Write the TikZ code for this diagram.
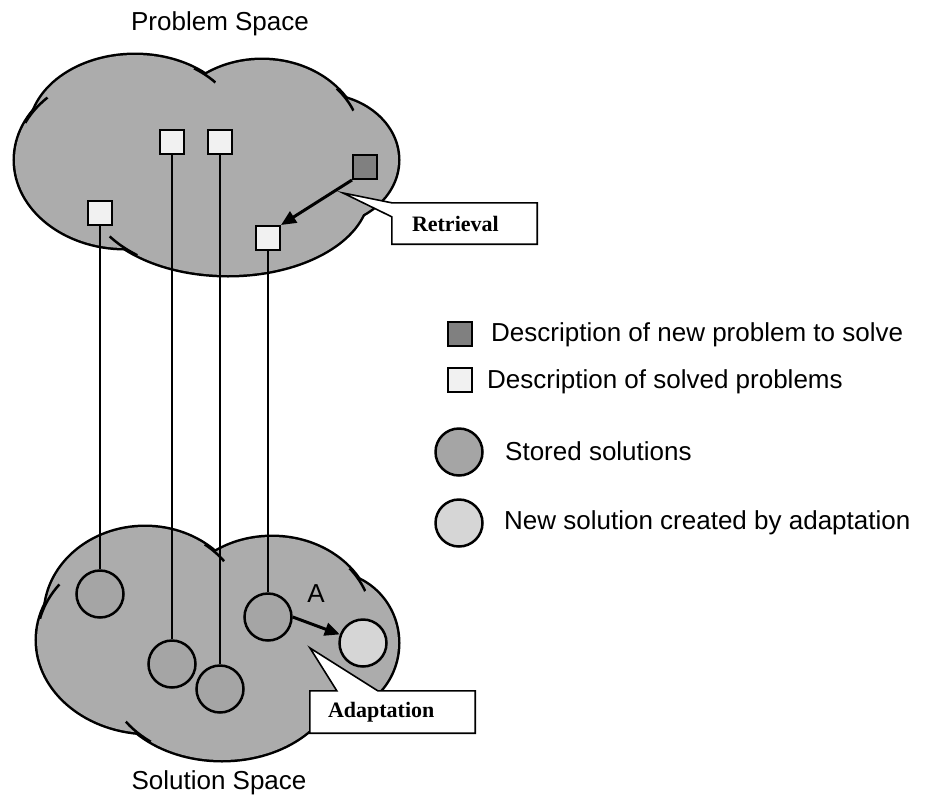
\documentclass[tikz,border=0pt]{standalone}
\usepackage{fontspec}
\setmainfont{Liberation Sans}
\newfontfamily\calloutfont{Liberation Serif}
\usetikzlibrary{arrows.meta,calc}

\definecolor{cloudgray}{RGB}{172,172,172}
\definecolor{solgray}{RGB}{165,165,165}
\definecolor{newgray}{RGB}{214,214,214}
\definecolor{darkbox}{RGB}{128,128,128}
\definecolor{lightbox}{RGB}{241,241,241}

\begin{document}
\begin{tikzpicture}[x=1pt,y=-1pt,
  every node/.style={font=\fontsize{26}{30}\selectfont},
  lobeline/.style={draw=black,line width=5pt,fill=cloudgray},
  lobefill/.style={fill=cloudgray},
  stub/.style={line width=2.5pt},
  probbox/.style={rectangle,draw=black,line width=2pt,fill=lightbox,minimum size=24pt,inner sep=0pt},
  newbox/.style={probbox,fill=darkbox},
  solcircle/.style={circle,draw=black,line width=2.5pt,fill=solgray,minimum size=47pt,inner sep=0pt},
  newcircle/.style={solcircle,fill=newgray},
  link/.style={line width=1.6pt},
  bigarrow/.style={line width=3pt,-{Triangle[length=15pt,width=13pt]}},
  callout/.style={draw=black,line width=1.6pt,fill=white},
  callouttext/.style={font=\calloutfont\bfseries\fontsize{22}{26}\selectfont,
    align=left,inner ysep=0pt,minimum height=41pt}
]
\useasboundingbox (0,0) rectangle (925,795);

% ---- problem space cloud (union of lobes) ----
\foreach \cx/\cy/\rx/\ry in {125/160/110/88, 135/132/105/77, 262/145/100/85, 320/160/78/65, 228/192/140/83}
  \path[lobeline] (\cx,\cy) ellipse [x radius=\rx pt, y radius=\ry pt];
\foreach \cx/\cy/\rx/\ry in {125/160/110/88, 135/132/105/77, 262/145/100/85, 320/160/78/65, 228/192/140/83}
  \path[lobefill] (\cx,\cy) ellipse [x radius=\rx pt, y radius=\ry pt];
% inner fold lines where lobes meet
\begin{scope}\clip (35,109) circle (17pt);
  \draw[stub] (125,160) ellipse [x radius=110pt, y radius=88pt];\end{scope}
\begin{scope}\clip (205,75) circle (13pt);
  \draw[stub] (135,132) ellipse [x radius=105pt, y radius=77pt];\end{scope}
\begin{scope}\clip (346,99) circle (14pt);
  \draw[stub] (262,145) ellipse [x radius=100pt, y radius=85pt];\end{scope}
\begin{scope}\clip (122,248) circle (17pt);
  \draw[stub] (228,192) ellipse [x radius=140pt, y radius=83pt];\end{scope}

% ---- solution space cloud (union of lobes) ----
\foreach \cx/\cy/\rx/\ry in {150/640/113/93, 145/615/100/88, 272/622/100/85, 330/643/68/70, 222/675/115/85}
  \path[lobeline] (\cx,\cy) ellipse [x radius=\rx pt, y radius=\ry pt];
\foreach \cx/\cy/\rx/\ry in {150/640/113/93, 145/615/100/88, 272/622/100/85, 330/643/68/70, 222/675/115/85}
  \path[lobefill] (\cx,\cy) ellipse [x radius=\rx pt, y radius=\ry pt];
% inner fold lines where lobes meet
\begin{scope}\clip (47,600) circle (20pt);
  \draw[stub] (150,640) ellipse [x radius=113pt, y radius=93pt];\end{scope}
\begin{scope}\clip (215,552) circle (13pt);
  \draw[stub] (145,615) ellipse [x radius=100pt, y radius=88pt];\end{scope}
\begin{scope}\clip (357,580) circle (14pt);
  \draw[stub] (272,622) ellipse [x radius=100pt, y radius=85pt];\end{scope}
\begin{scope}\clip (138,732) circle (16pt);
  \draw[stub] (222,675) ellipse [x radius=115pt, y radius=85pt];\end{scope}

% ---- problem descriptions ----
\node[probbox] (s1) at (100,213) {};
\node[probbox] (s2) at (172,142) {};
\node[probbox] (s3) at (220,142) {};
\node[probbox] (s4) at (268,238) {};
\node[newbox]  (dk) at (365,167) {};

% ---- stored and adapted solutions ----
\node[solcircle] (c1) at (100,594) {};
\node[solcircle] (c2) at (172,664) {};
\node[solcircle] (c3) at (220,689) {};
\node[solcircle] (c4) at (268,617) {};
\node[newcircle] (cn) at (363,643) {};

% ---- problem-solution links ----
\draw[link] (s1.south) -- (c1.north);
\draw[link] (s2.south) -- (c2.north);
\draw[link] (s3.south) -- (c3.north);
\draw[link] (s4.south) -- (c4.north);

% ---- retrieval and adaptation arrows ----
\draw[bigarrow] (dk.south west) -- (s4.north east);
\draw[bigarrow] (c4.east) -- (cn);
\node[anchor=base] (alabel) at (316,602) {A};

% ---- callouts ----
\node[callouttext,text width=105pt,inner xsep=20pt] (ret) at (464.5,223.5) {};
\coordinate (rettip) at (343,193);
\draw[callout] (ret.north west) -- (ret.north east) -- (ret.south east) -- (ret.south west)
  -- ($(ret.north west)+(0,14)$) -- (rettip) -- cycle;
\node[callouttext,text width=105pt,inner xsep=20pt] (rettext) at (ret) {Retrieval};
\node[callouttext,text width=129pt,inner xsep=18pt,minimum height=42pt] (ad) at (392.5,712) {};
\coordinate (adtip) at (310,648);
\draw[callout] (ad.south west) -- (ad.north west) -- ($(ad.north west)+(27,0)$) -- (adtip)
  -- ($(ad.north west)+(68,0)$) -- (ad.north east) -- (ad.south east) -- cycle;
\node[callouttext,text width=129pt,inner xsep=18pt,minimum height=42pt] (adtext) at (ad) {Adaptation};

% ---- space titles ----
\node[anchor=base] (ptitle) at (220,30) {Problem Space};
\node[anchor=base] (stitle) at (219,789) {Solution Space};

% ---- legend ----
\node[newbox]    (ld) at (460,333.5) {};
\node[probbox]   (lw) at (460,380) {};
\node[solcircle] (lc) at (459,452) {};
\node[newcircle] (ln) at (459,523) {};
\node[anchor=base west,inner sep=0pt] (t1) at (491,341) {Description of new problem to solve};
\node[anchor=base west,inner sep=0pt] (t2) at (487,388) {Description of solved problems};
\node[anchor=base west,inner sep=0pt] (t3) at (505,460) {Stored solutions};
\node[anchor=base west,inner sep=0pt] (t4) at (504,529) {New solution created by adaptation};
\end{tikzpicture}
\end{document}
